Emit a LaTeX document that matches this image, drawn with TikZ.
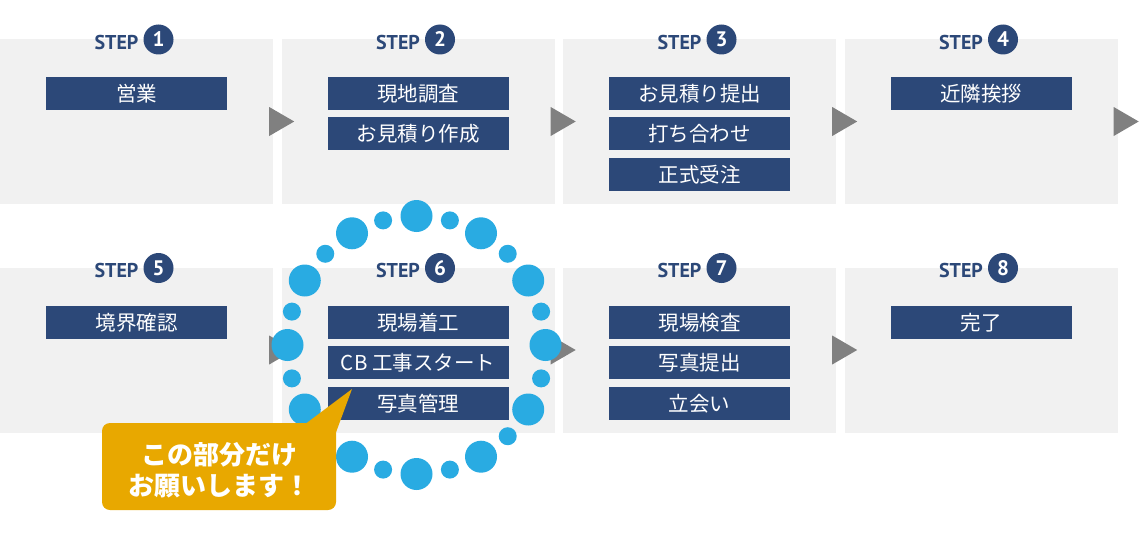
\documentclass[tikz,border=0pt]{standalone}
\usepackage{fontspec}
\newfontfamily\jpfont{Noto Sans CJK JP}
\newfontfamily\stepfont{PT Sans}
\usetikzlibrary{positioning,calc}
\definecolor{navy}{HTML}{2C4878}
\definecolor{panelgray}{HTML}{F1F1F1}
\definecolor{arrowgray}{HTML}{808080}
\definecolor{dotblue}{HTML}{29ABE2}
\definecolor{noteorange}{HTML}{E8A800}

\tikzset{
  panel/.style={fill=panelgray, minimum width=273pt, minimum height=165pt, inner sep=0pt},
  taskbox/.style={fill=navy, text=white, minimum width=181pt, minimum height=33pt, inner sep=0pt,
    font=\jpfont\fontsize{20.5}{20.5}\selectfont},
  steptext/.style={text=navy, inner sep=0pt, font=\stepfont\bfseries\fontsize{20}{20}\selectfont},
  stepnum/.style={circle, fill=navy, text=white, minimum size=30pt, inner sep=0pt,
    font=\stepfont\bfseries\fontsize{21}{21}\selectfont},
  notebox/.style={fill=noteorange, rounded corners=8pt, minimum width=234pt,
    minimum height=87pt, inner sep=0pt},
  notetext/.style={text=white, align=center, inner sep=0pt,
    font=\jpfont\bfseries\fontsize{26}{31}\selectfont}
}

\begin{document}
\begin{tikzpicture}[x=1pt, y=-1pt]
\useasboundingbox (0,0) rectangle (1148,535);

% panels and step headings
\foreach \n/\x/\y in {1/136.5/121.5, 2/418/121.5, 3/699.5/121.5, 4/981/121.5,
                      5/136.5/350, 6/418/350, 7/699.5/350, 8/981/350} {
  \node[panel] (p\n) at (\x,\y) {};
  \node[steptext] (s\n) at (\x-20,\y-79.5) {STEP};
  \node[stepnum] (n\n) at (\x+22,\y-82) {\n};
}

% arrows between the steps
\foreach \p in {p1,p2,p3,p4,p5,p6,p7}
  \fill[arrowgray] ($(\p.east)+(-4,-14.5)$) -- ++(25,14.5) -- ++(-25,14.5) -- cycle;

% tasks
\node[taskbox] (t1a) at (136.5,93.5) {営業};

\node[taskbox] (t2a) at (418,93.5) {現地調査};
\node[taskbox, below=7pt of t2a] (t2b) {お見積り作成};

\node[taskbox] (t3a) at (699.5,93.5) {お見積り提出};
\node[taskbox, below=7pt of t3a] (t3b) {打ち合わせ};
\node[taskbox, below=7pt of t3b] (t3c) {正式受注};

\node[taskbox] (t4a) at (981,93.5) {近隣挨拶};

\node[taskbox] (t5a) at (136.5,322.5) {境界確認};

\node[taskbox] (t6a) at (418,322.5) {現場着工};
\node[taskbox, below=7pt of t6a] (t6b) {CB 工事スタート};
\node[taskbox, below=7pt of t6b] (t6c) {写真管理};

\node[taskbox] (t7a) at (699.5,322.5) {現場検査};
\node[taskbox, below=7pt of t7a] (t7b) {写真提出};
\node[taskbox, below=7pt of t7b] (t7c) {立会い};

\node[taskbox] (t8a) at (981,322.5) {完了};

% ring of dots round step 6
\coordinate (ringc) at (416.5,345);
\foreach \i in {0,...,23} {
  \pgfmathsetmacro\dotr{mod(\i,2)==0 ? 16 : 9}
  \fill[dotblue] ($(ringc)+(\i*15:129)$) circle (\dotr);
}

% callout
\coordinate (tip) at (352,389);
\node[notebox] (note) at (219,466.5) {};
\fill[noteorange] ($(note.north east)+(-30,0.5)$) -- (tip) -- ($(note.north east)+(0,9)$) -- cycle;
\node[notetext] (notetxt) at (219,470) {この部分だけ\\お願いします！};
\end{tikzpicture}
\end{document}
